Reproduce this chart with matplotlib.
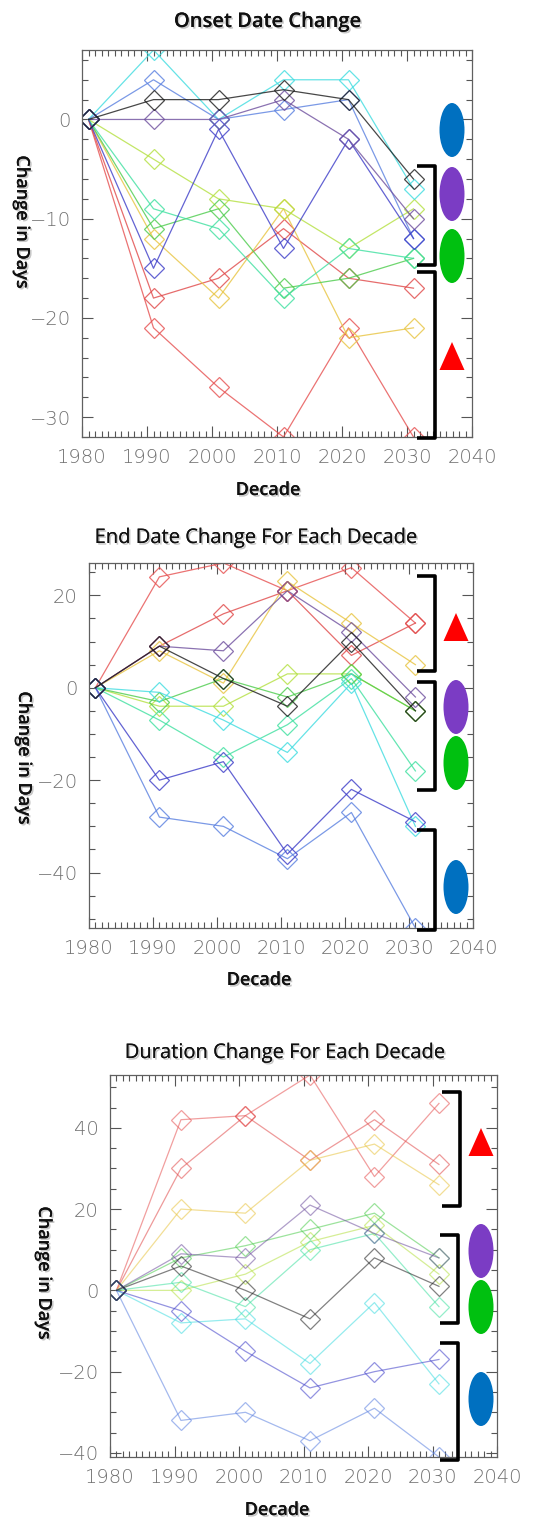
import matplotlib
matplotlib.use("Agg")
import matplotlib.pyplot as plt
from matplotlib.patches import Ellipse, Polygon
from matplotlib.ticker import MultipleLocator
import matplotlib.patheffects as pe

# decades (x values of the points)
decades = [1981, 1991, 2001, 2011, 2021, 2031]
names = ['redB', 'redA', 'gold', 'lime', 'green', 'teal', 'cyan', 'blue', 'indigo', 'purple', 'black']

# onset date change (days)
onset = {
    'black':  [0, 2, 2, 3, 2, -6],
    'purple': [0, 0, 0, 2, -2, -10],
    'indigo': [0, -15, -1, -13, -2, -12],
    'blue':   [0, 4, 0, 1, 2, -12],
    'cyan':   [0, 7, 0, 4, 4, -7],
    'teal':   [0, -9, -11, -18, -13, -14],
    'green':  [0, -11, -9, -17, -16, -14],
    'lime':   [0, -4, -8, -9, -13, -9],
    'gold':   [0, -12, -18, -9, -22, -21],
    'redA':   [0, -18, -16, -11, -16, -17],
    'redB':   [0, -21, -27, -32, -21, -32],
}

# end date change (days)
end = {
    'black':  [0, 9, 2, -4, 10, -5],
    'purple': [0, 9, 8, 21, 12, -2],
    'indigo': [0, -20, -16, -36, -22, -29],
    'blue':   [0, -28, -30, -37, -27, -52],
    'cyan':   [0, -1, -7, -14, 1, -30],
    'teal':   [0, -7, -15, -8, 2, -18],
    'green':  [0, -3, 2, -2, 3, -5],
    'lime':   [0, -4, -4, 3, 3, -5],
    'gold':   [0, 8, 1, 23, 14, 5],
    'redA':   [0, 9, 16, 21, 7, 14],
    'redB':   [0, 24, 27, 21, 26, 14],
}

# duration change (days)
duration = {
    'black':  [0, 6, 0, -7, 8, 1],
    'purple': [0, 9, 8, 21, 14, 8],
    'indigo': [0, -5, -15, -24, -20, -17],
    'blue':   [0, -32, -30, -37, -29, -41],
    'cyan':   [0, -8, -7, -18, -3, -23],
    'teal':   [0, 2, -4, 10, 14, -4],
    'green':  [0, 8, 11, 15, 19, 8],
    'lime':   [0, 0, 4, 12, 16, 4],
    'gold':   [0, 20, 19, 32, 36, 26],
    'redA':   [0, 30, 43, 32, 42, 31],
    'redB':   [0, 42, 43, 53, 28, 46],
}

colors = {
    'black': '#1a1a1a', 'purple': '#6e4f9e', 'indigo': '#3c3cc8', 'blue': '#5a80e0',
    'cyan': '#3fdce0', 'teal': '#3fe0a0', 'green': '#4ccc4c', 'lime': '#b4e040',
    'gold': '#e8c440', 'redA': '#e04848', 'redB': '#e65050',
}

W, H = 550, 1520
fig = plt.figure(figsize=(W / 100, H / 100), dpi=100)
shadow = [pe.withSimplePatchShadow(offset=(1.2, -1.2), shadow_rgbFace='#999999', alpha=0.55), pe.Normal()]


def make_panel(box, data, ylim, ymaj, ymin, alpha):
    l, t, r, b = box
    ax = fig.add_axes([l / W, 1 - b / H, (r - l) / W, (b - t) / H])
    for n in names:
        ax.plot(decades, data[n], color=colors[n], lw=0.9, alpha=alpha,
                marker='D', ms=10, mfc='none', mew=0.9)
    ax.set_xlim(1980, 2040)
    ax.set_ylim(*ylim)
    ax.xaxis.set_major_locator(MultipleLocator(10))
    ax.xaxis.set_minor_locator(MultipleLocator(1))
    ax.yaxis.set_major_locator(MultipleLocator(ymaj))
    ax.yaxis.set_minor_locator(MultipleLocator(ymin))
    ax.tick_params(which='both', direction='in', top=True, right=True, color='#555555', width=0.8)
    ax.tick_params(which='major', length=8, labelsize=14, labelcolor='#707070', pad=8)
    ax.tick_params(which='minor', length=4)
    for lab in ax.get_xticklabels() + ax.get_yticklabels():
        lab.set_fontweight('light')
    for s in ax.spines.values():
        s.set_color('#606060')
        s.set_linewidth(0.9)
    return ax


ax1 = make_panel((82, 50, 472, 437), onset, (-32, 7), 10, 2, 0.8)
ax2 = make_panel((89, 563, 473, 928), end, (-52, 27), 20, 5, 0.8)
ax3 = make_panel((110, 1075, 497, 1457), duration, (-41, 53), 20, 5, 0.55)

# overlay in pixel coordinates for titles, labels and the group markers
ov = fig.add_axes([0, 0, 1, 1], zorder=10)
ov.set_xlim(0, W)
ov.set_ylim(H, 0)
ov.axis('off')
ov.patch.set_alpha(0)

tfont = dict(family=['Open Sans', 'DejaVu Sans'], color='#111111', ha='center', va='center')
ov.text(268, 22, 'Onset Date Change', fontsize=14.5, weight='semibold', path_effects=shadow, **tfont)
ov.text(256, 538, 'End Date Change For Each Decade', fontsize=14.5, path_effects=shadow, **tfont)
ov.text(285, 1053, 'Duration Change For Each Decade', fontsize=14.5, path_effects=shadow, **tfont)

for x, y in [(268, 490), (259, 980), (277, 1510)]:
    ov.text(x, y, 'Decade', fontsize=13, weight='semibold', path_effects=shadow, **tfont)
for x, y in [(22, 222), (24, 758), (44, 1273)]:
    ov.text(x, y, 'Change in Days', fontsize=13, weight='semibold', rotation=-90,
            path_effects=shadow, **tfont)


def bracket(x, top, bot, arm=18):
    ov.plot([x - arm, x, x, x - arm], [top, top, bot, bot], color='black', lw=2.6,
            solid_joinstyle='round', solid_capstyle='butt')


def oval(x, y, c):
    ov.add_patch(Ellipse((x, y), 25, 54, color=c, lw=0))


def tri(x, y):
    ov.add_patch(Polygon([[x - 12.5, y + 14], [x + 12.5, y + 14], [x, y - 14]], color='#ff0000', lw=0))


blue_c, purple_c, green_c = '#0070c0', '#7b3cc4', '#00c010'

# panel 1
bracket(435, 166, 265)
bracket(435, 272, 438)
oval(452, 130, blue_c)
oval(452, 194, purple_c)
oval(452, 256, green_c)
tri(452, 356)
# panel 2
bracket(435, 576, 671)
bracket(435, 682, 790)
bracket(435, 830, 930)
tri(456, 627)
oval(456, 707, purple_c)
oval(456, 763, green_c)
oval(456, 887, blue_c)
# panel 3
bracket(460, 1092, 1206)
bracket(458, 1235, 1323)
bracket(458, 1343, 1460)
tri(481, 1142)
oval(481, 1251, purple_c)
oval(481, 1307, green_c)
oval(481, 1399, blue_c)

fig.savefig('out.png', dpi=100)
